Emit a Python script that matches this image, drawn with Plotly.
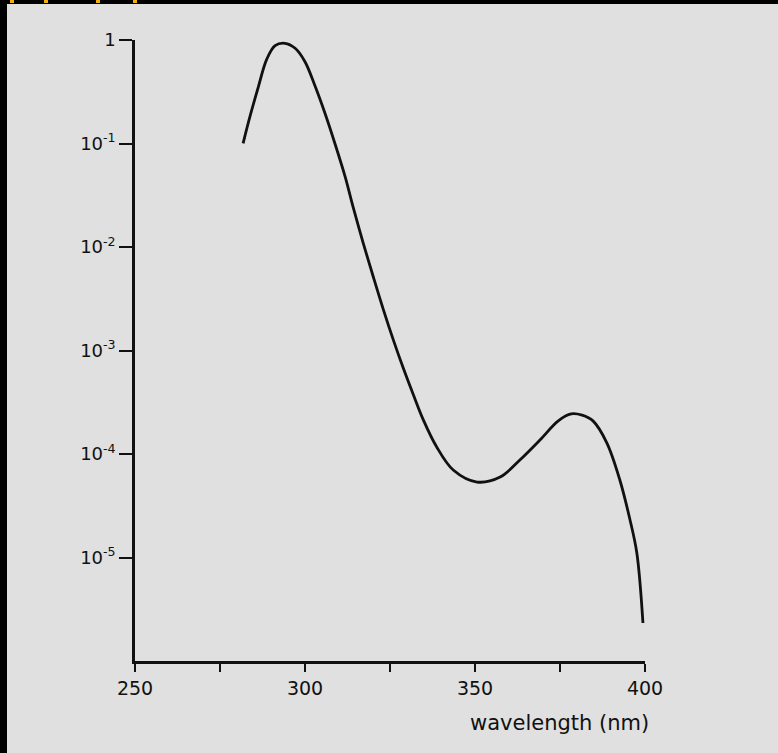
import plotly.graph_objects as go

# Curve (wavelength in nm, value on log scale as log10)
wavelength = [281.8, 283.8, 286.3, 288.7, 291.2, 294.1, 297.1, 300.0, 302.9, 305.9,
              308.8, 311.8, 314.2, 317.1, 320.1, 323.0, 326.0, 328.9, 331.9, 334.8,
              338.7, 343.6, 350.6, 357.4, 363.2, 369.1, 374.5, 378.3, 381.5, 384.7,
              388.8, 392.6, 395.6, 397.6, 399.4]
log_value = [-0.998, -0.741, -0.451, -0.190, -0.055, -0.032, -0.080, -0.210, -0.440, -0.710,
             -1.000, -1.320, -1.620, -1.960, -2.290, -2.600, -2.900, -3.170, -3.430, -3.670,
             -3.930, -4.155, -4.271, -4.222, -4.058, -3.865, -3.680, -3.613, -3.625, -3.680,
             -3.894, -4.251, -4.638, -4.957, -5.633]
value = [10 ** v for v in log_value]

x_tickvals = [250, 300, 350, 400]
x_ticktext = ["250", "300", "350", "400"]
y_tickvals = [1, 1e-1, 1e-2, 1e-3, 1e-4, 1e-5]
y_ticktext = ["1", "10<sup>-1</sup>", "10<sup>-2</sup>", "10<sup>-3</sup>",
              "10<sup>-4</sup>", "10<sup>-5</sup>"]

W, H = 778, 753
L, R, T, B = 135, 133, 40, 92
pw, ph = W - L - R, H - T - B

def px_x(p):
    return (p - L) / pw

def px_y(p):
    return 1 - (p - T) / ph

BG = "#e0e0e0"
INK = "#111111"
fig = go.Figure()
fig.add_trace(go.Scatter(x=wavelength, y=value, mode="lines",
                         line=dict(color=INK, width=2.8, shape="spline", smoothing=1.0),
                         showlegend=False, hoverinfo="skip"))

shapes = [
    dict(type="rect", xref="paper", yref="paper", x0=px_x(0), x1=px_x(W), y0=px_y(0), y1=px_y(4),
         fillcolor="black", line_width=0, layer="below"),
    dict(type="rect", xref="paper", yref="paper", x0=px_x(0), x1=px_x(7), y0=px_y(0), y1=px_y(H),
         fillcolor="black", line_width=0, layer="below"),
]
for xm in [10, 44, 96, 133]:
    shapes.append(dict(type="rect", xref="paper", yref="paper", x0=px_x(xm), x1=px_x(xm + 4),
                       y0=px_y(0), y1=px_y(3), fillcolor="#f2b10a", line_width=0, layer="above"))

fig.update_layout(
    width=W, height=H,
    margin=dict(l=L, r=R, t=T, b=B, pad=0),
    paper_bgcolor=BG, plot_bgcolor=BG,
    font=dict(family="DejaVu Sans", color=INK),
    shapes=shapes,
    xaxis=dict(range=[250, 400], showgrid=False, zeroline=False, showline=True,
               linecolor=INK, linewidth=2.5, ticks="outside", ticklen=8, tickwidth=2,
               tickcolor=INK, tickvals=x_tickvals, ticktext=x_ticktext,
               minor=dict(ticks="outside", ticklen=8, tickwidth=2, tickcolor=INK,
                          tick0=250, dtick=25, showgrid=False),
               tickfont=dict(size=19, family="DejaVu Sans")),
    yaxis=dict(type="log", range=[-6, 0], showgrid=False, zeroline=False, showline=True,
               linecolor=INK, linewidth=2.5, ticks="outside", ticklen=13, tickwidth=2,
               tickcolor=INK, tickvals=y_tickvals, ticktext=y_ticktext,
               tickfont=dict(size=18, family="DejaVu Sans")),
    annotations=[dict(text="wavelength (nm)", x=400, xref="x", y=px_y(723), yref="paper",
                      xanchor="right", yanchor="middle", xshift=6, showarrow=False,
                      font=dict(size=21, family="DejaVu Sans", color=INK))],
)

fig.write_html("out.html", config={"displayModeBar": False},
               post_script="document.body.style.margin='0';")
